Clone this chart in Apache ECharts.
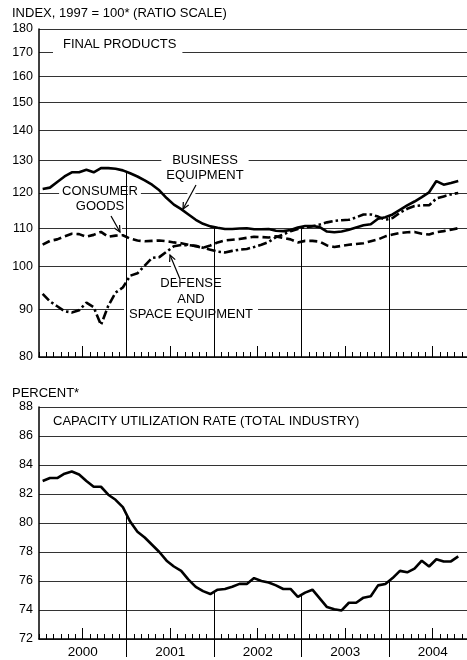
<!DOCTYPE html>
<html>
<head>
<meta charset="utf-8">
<script src="https://cdn.jsdelivr.net/npm/echarts@6.0.0/dist/echarts.min.js"></script>
<style>
html, body { margin: 0; padding: 0; background: #fff; }
#main { width: 467px; height: 660px; }
</style>
</head>
<body>
<div id="main"></div>
<script>
// monthly, Jan 2000 .. Oct 2004
var years = ['2000', '2001', '2002', '2003', '2004'];
var indexTicks = [80, 90, 100, 110, 120, 130, 140, 150, 160, 170, 180];

var businessEquipment = [
    121.2, 121.6, 123.3, 125.0, 126.3, 126.3, 127.1, 126.3, 127.6, 127.6, 127.4, 126.9,
    126.0, 125.0, 123.8, 122.5, 120.8, 118.5, 116.6, 115.3, 113.8, 112.3, 111.2, 110.5,
    110.1, 109.8, 109.8, 109.9, 110.0, 109.7, 109.7, 109.8, 109.3, 109.2, 109.5, 110.2,
    110.6, 110.6, 110.3, 109.1, 108.9, 109.1, 109.6, 110.2, 110.8, 111.1, 112.6, 113.0,
    113.8, 115.1, 116.4, 117.5, 118.8, 120.2, 123.6, 122.5, 123.0, 123.6
];
var consumerGoods = [
    105.6, 106.6, 107.0, 107.8, 108.5, 108.4, 107.7, 108.2, 109.0, 107.7, 108.0, 108.1,
    107.2, 106.7, 106.5, 106.6, 106.7, 106.5, 106.2, 106.0, 105.6, 105.2, 104.8, 105.4,
    106.2, 106.7, 106.9, 107.1, 107.4, 107.7, 107.6, 107.5, 107.8, 107.4, 107.0, 106.2,
    106.6, 106.6, 106.4, 105.4, 105.0, 105.3, 105.6, 105.8, 106.0, 106.5, 107.0, 107.8,
    108.3, 108.7, 108.9, 109.0, 108.5, 108.3, 108.9, 109.2, 109.6, 110.0
];
var defenseSpace = [
    93.5, 91.8, 90.7, 89.6, 89.3, 89.8, 91.5, 90.5, 86.6, 90.8, 93.8, 95.0,
    97.8, 98.4, 100.3, 102.2, 102.4, 103.8, 105.2, 105.5, 105.5, 105.3, 104.8, 104.3,
    103.8, 103.6, 104.0, 104.3, 104.5, 105.0, 105.6, 106.3, 107.6, 108.3, 109.2, 109.8,
    110.3, 110.5, 111.0, 111.6, 112.0, 112.2, 112.3, 113.0, 113.8, 113.8, 113.2, 112.3,
    112.8, 114.3, 115.4, 116.2, 116.4, 116.4, 118.4, 119.0, 119.6, 120.0
];
var capacityUtil = [
    82.9, 83.1, 83.1, 83.4, 83.55, 83.35, 82.9, 82.5, 82.5, 81.95, 81.6, 81.1,
    80.1, 79.4, 79.0, 78.5, 78.0, 77.4, 77.0, 76.7, 76.1, 75.6, 75.3, 75.1,
    75.4, 75.45, 75.6, 75.8, 75.8, 76.2, 76.0, 75.9, 75.7, 75.45, 75.45, 74.9,
    75.2, 75.4, 74.8, 74.2, 74.05, 73.97, 74.5, 74.5, 74.85, 74.95, 75.7, 75.8,
    76.2, 76.7, 76.6, 76.85, 77.4, 77.0, 77.5, 77.35, 77.35, 77.7
];

var FONT = 'Liberation Sans';
var XMAX = 58.7;
var midYears = [6, 18, 30, 42, 54];
var yearBounds = [12, 24, 36, 48];

function toPairs(arr) {
    return arr.map(function (v, i) { return [i + 0.5, v]; });
}

var gridLine = { color: '#333', width: 1 };

function mainX(grid) {
    return {
        type: 'value', gridIndex: grid, position: 'bottom', min: 0, max: XMAX, interval: 1,
        axisLine: { show: true, onZero: false, lineStyle: { color: '#000', width: 1.5 } },
        axisTick: { show: true, inside: true, length: 5, lineStyle: { color: '#000', width: 1 } },
        axisLabel: { show: false },
        splitLine: { show: false }
    };
}
function midYearX(grid, withLabels) {
    return {
        type: 'value', gridIndex: grid, position: 'bottom', min: 0, max: XMAX,
        axisLine: { show: false, onZero: false },
        axisTick: { show: true, inside: true, length: 11, customValues: midYears,
            lineStyle: { color: '#000', width: 1 } },
        axisLabel: withLabels ? {
            show: true, customValues: midYears, margin: 6,
            fontFamily: FONT, fontSize: 13.5, color: '#000',
            formatter: function (v) { return years[Math.round((v - 6) / 12)]; }
        } : { show: false },
        splitLine: { show: false }
    };
}

// annotation arrow, with a white halo that breaks the grid lines
function arrow(x1, y1, x2, y2) {
    var a = Math.atan2(y2 - y1, x2 - x1), L = 7, s = 0.45;
    return [
        { type: 'line', z: 1, shape: { x1: x1, y1: y1, x2: x2, y2: y2 },
          style: { stroke: '#fff', lineWidth: 7 } },
        { type: 'line', z: 5, shape: { x1: x1, y1: y1, x2: x2, y2: y2 },
          style: { stroke: '#000', lineWidth: 1.2 } },
        { type: 'polyline', z: 5, shape: { points: [
            [x2 - L * Math.cos(a - s), y2 - L * Math.sin(a - s)],
            [x2, y2],
            [x2 - L * Math.cos(a + s), y2 - L * Math.sin(a + s)]
          ] }, style: { stroke: '#000', lineWidth: 1.2, fill: null } }
    ];
}

function label(text, x, y, align, opts) {
    var st = {
        text: text, x: x, y: y, align: align, verticalAlign: 'middle',
        font: '13px "' + FONT + '"', fill: '#000'
    };
    for (var k in (opts || {})) st[k] = opts[k];
    return { type: 'text', z: 1, style: st };
}

var myChart = echarts.init(document.getElementById('main'));

option = {
    animation: false,
    backgroundColor: '#fff',
    grid: [
        { left: 39, right: 0, top: 29, height: 328 },
        { left: 39, right: 0, top: 407, height: 232 }
    ],
    xAxis: [
        mainX(0),
        midYearX(0, false),
        mainX(1),
        midYearX(1, true),
        {   // year separators under the lower chart
            type: 'value', gridIndex: 1, position: 'bottom', min: 0, max: XMAX,
            axisLine: { show: false, onZero: false },
            axisTick: { show: true, inside: false, length: 18, customValues: yearBounds,
                lineStyle: { color: '#000', width: 1 } },
            axisLabel: { show: false },
            splitLine: { show: false }
        }
    ],
    yAxis: [
        {
            type: 'log', logBase: 10, gridIndex: 0, min: 80, max: 180,
            axisLine: { show: true, lineStyle: { color: '#000', width: 1.5 } },
            axisTick: { show: false, customValues: indexTicks },
            axisLabel: { customValues: indexTicks, margin: 6, fontFamily: FONT, fontSize: 12.5, color: '#000' },
            splitLine: { show: true, lineStyle: gridLine }
        },
        {
            type: 'value', gridIndex: 1, min: 72, max: 88, interval: 2,
            axisLine: { show: true, lineStyle: { color: '#000', width: 1.5 } },
            axisTick: { show: false },
            axisLabel: { margin: 6, fontFamily: FONT, fontSize: 12.5, color: '#000' },
            splitLine: { show: true, lineStyle: gridLine }
        }
    ],
    series: [
        {
            name: 'Business equipment', type: 'line', xAxisIndex: 0, yAxisIndex: 0,
            data: toPairs(businessEquipment), symbol: 'none', z: 3,
            lineStyle: { color: '#000', width: 2.6 },
            markLine: {
                silent: true, symbol: ['none', 'none'], label: { show: false },
                lineStyle: { color: '#000', width: 1, type: 'solid' },
                data: yearBounds.map(function (b) {
                    return [{ coord: [b, 80] },
                            { coord: [b, Math.sqrt(businessEquipment[b - 1] * businessEquipment[b])] }];
                })
            }
        },
        {
            name: 'Consumer goods', type: 'line', xAxisIndex: 0, yAxisIndex: 0,
            data: toPairs(consumerGoods), symbol: 'none', z: 3,
            lineStyle: { color: '#000', width: 2.6, type: [8, 4] }
        },
        {
            name: 'Defense and space equipment', type: 'line', xAxisIndex: 0, yAxisIndex: 0,
            data: toPairs(defenseSpace), symbol: 'none', z: 3,
            lineStyle: { color: '#000', width: 2.6, type: [9, 3, 2.5, 3] }
        },
        {
            name: 'Capacity utilization', type: 'line', xAxisIndex: 2, yAxisIndex: 1,
            data: toPairs(capacityUtil), symbol: 'none', z: 3,
            lineStyle: { color: '#000', width: 2.6 },
            markLine: {
                silent: true, symbol: ['none', 'none'], label: { show: false },
                lineStyle: { color: '#000', width: 1, type: 'solid' },
                data: yearBounds.map(function (b) {
                    return [{ coord: [b, 72] },
                            { coord: [b, (capacityUtil[b - 1] + capacityUtil[b]) / 2] }];
                })
            }
        }
    ],
    graphic: [
        label('INDEX, 1997 = 100* (RATIO SCALE)', 12, 13, 'left'),
        label('FINAL PRODUCTS', 53, 44, 'left', { backgroundColor: '#fff', padding: [4, 6, 6, 10] }),
        label('BUSINESS\nEQUIPMENT', 205, 168, 'center', { backgroundColor: '#fff', padding: [0, 5, 0, 5], lineHeight: 15 }),
        label('CONSUMER\nGOODS', 100, 199, 'center', { backgroundColor: '#fff', padding: [0, 3, 0, 3], lineHeight: 15 }),
        label('DEFENSE\nAND\nSPACE EQUIPMENT', 191, 299, 'center', { backgroundColor: '#fff', padding: [0, 5, 0, 5], lineHeight: 15.5 }),
        label('PERCENT*', 12, 393, 'left'),
        label('CAPACITY UTILIZATION RATE (TOTAL INDUSTRY)', 53, 421, 'left')
    ].concat(arrow(196, 185, 183, 209))
     .concat(arrow(111, 216, 120, 232))
     .concat(arrow(180, 279, 170, 255))
};

myChart.setOption(option);
</script>
</body>
</html>
